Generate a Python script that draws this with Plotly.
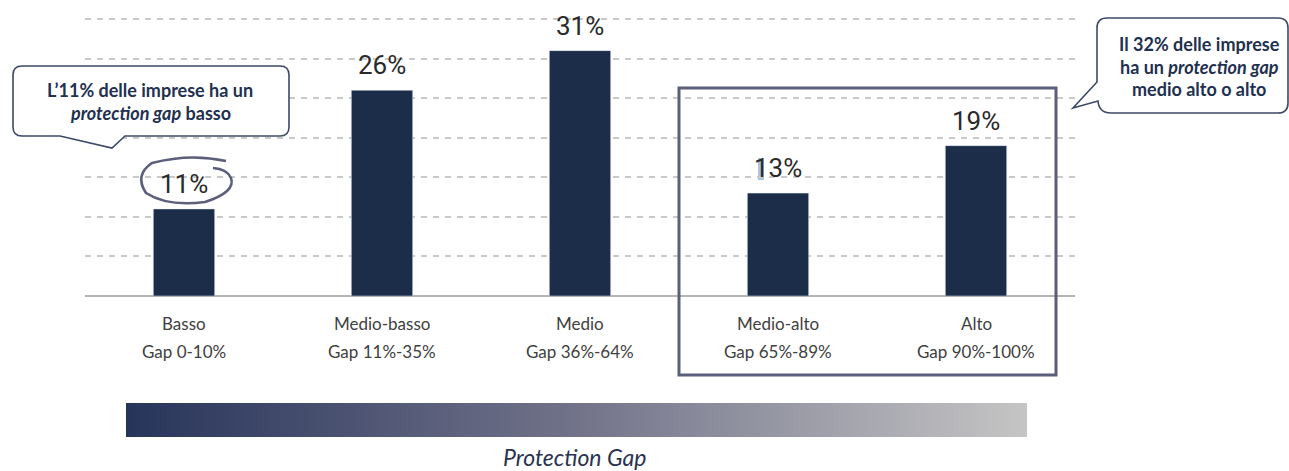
import plotly.graph_objects as go

# ---- data ----
categories = ["Basso", "Medio-basso", "Medio", "Medio-alto", "Alto"]
gap_ranges = ["Gap 0-10%", "Gap 11%-35%", "Gap 36%-64%", "Gap 65%-89%", "Gap 90%-100%"]
shares = [11, 26, 31, 13, 19]
value_labels = ["11%", "26%", "31%", "13%", "19%"]
left_callout = ["<b>L’11% delle imprese ha un</b>", "<b><i>protection gap</i> basso</b>"]
right_callout = ["<b>Il 32% delle imprese</b>", "<b>ha un <i>protection gap</i></b>", "<b>medio alto o alto</b>"]
scale_title = "<i>Protection Gap</i>"

W, H = 1289, 471


def px(x):
    return x / W


def py(y):
    return 1 - y / H


BAR = "#1c2d4a"
NAVY_TXT = "#22304f"
BOX = "#5c5f7c"
FONT = "Lato, 'Open Sans', sans-serif"

fig = go.Figure()
fig.add_trace(go.Bar(x=categories, y=shares, marker_color=BAR, width=0.31,
                     hoverinfo="skip", xaxis="x", yaxis="y"))

# gradient scale bar
fig.add_trace(go.Heatmap(z=[[0, 1], [0, 1]], x=[0, 1], y=[0, 1], zsmooth="best",
                         colorscale=[[0, "#27345a"], [0.5, "#72738a"], [1, "#c5c5c5"]],
                         showscale=False, hoverinfo="skip", xaxis="x2", yaxis="y2"))

unit = (296 - 19) / 35.0
ytop_px = 296 - 36 * unit

fig.update_layout(
    width=W, height=H,
    margin=dict(l=0, r=0, t=0, b=0),
    paper_bgcolor="white", plot_bgcolor="rgba(0,0,0,0)",
    showlegend=False,
    font=dict(family=FONT, color="#404040"),
    xaxis=dict(domain=[px(85), px(1075)], range=[-0.5, 4.5], showticklabels=False,
               showgrid=False, zeroline=False, showline=False, ticks=""),
    yaxis=dict(domain=[py(296), py(ytop_px)], range=[0, 36], dtick=5, tick0=0,
               showticklabels=False, showgrid=True, gridcolor="#c9c9c9", gridwidth=1.6,
               griddash="6px,6px", zeroline=True, zerolinecolor="#b4b4b4", zerolinewidth=2,
               showline=False, ticks=""),
    xaxis2=dict(domain=[px(126), px(1027)], range=[0, 1], visible=False),
    yaxis2=dict(domain=[py(437), py(403)], range=[0, 1], visible=False, anchor="x2"),
)
fig.data[1].update(xaxis="x2", yaxis="y2")

annotations = []
# value labels
for c, v, t in zip(categories, shares, value_labels):
    annotations.append(dict(x=c, y=v, xref="x", yref="y", text=t, showarrow=False,
                            yanchor="bottom", yshift=8,
                            font=dict(family="Roboto, sans-serif", size=26, color="#2a2a2a")))
# category labels
for c, g in zip(categories, gap_ranges):
    annotations.append(dict(x=c, y=py(323), xref="x", yref="paper", text=c, showarrow=False,
                            yanchor="middle", font=dict(size=17, color="#404040")))
    annotations.append(dict(x=c, y=py(351), xref="x", yref="paper", text=g, showarrow=False,
                            yanchor="middle", font=dict(size=17, color="#404040")))
# left callout text
for t, yy in zip(left_callout, [90, 113]):
    annotations.append(dict(x=px(150), y=py(yy), xref="paper", yref="paper", text=t,
                            showarrow=False, xanchor="center", yanchor="middle",
                            font=dict(size=18, color=NAVY_TXT)))
# right callout text
for t, yy in zip(right_callout, [44, 67, 89]):
    annotations.append(dict(x=px(1199), y=py(yy), xref="paper", yref="paper", text=t,
                            showarrow=False, xanchor="center", yanchor="middle",
                            font=dict(size=18, color=NAVY_TXT)))
# scale title
annotations.append(dict(x=px(574), y=py(457), xref="paper", yref="paper", text=scale_title,
                        showarrow=False, xanchor="center", yanchor="middle",
                        font=dict(size=23, color="#2a3350")))
fig.update_layout(annotations=annotations)


def P(x, y):
    return f"{px(x):.5f},{py(y):.5f}"


def rounded_callout_left():
    x0, x1, y0, y1, r = 13, 289, 66, 136, 9
    return ("M " + P(x0 + r, y0) + " L " + P(x1 - r, y0) + " Q " + P(x1, y0) + " " + P(x1, y0 + r) +
            " L " + P(x1, y1 - r) + " Q " + P(x1, y1) + " " + P(x1 - r, y1) +
            " L " + P(125, y1) + " L " + P(112, 148) + " L " + P(60, y1) +
            " L " + P(x0 + r, y1) + " Q " + P(x0, y1) + " " + P(x0, y1 - r) +
            " L " + P(x0, y0 + r) + " Q " + P(x0, y0) + " " + P(x0 + r, y0) + " Z")


def rounded_callout_right():
    x0, x1, y0, y1, r = 1097, 1288, 18, 113, 10
    return ("M " + P(x0 + r, y0) + " L " + P(x1 - r, y0) + " Q " + P(x1, y0) + " " + P(x1, y0 + r) +
            " L " + P(x1, y1 - r) + " Q " + P(x1, y1) + " " + P(x1 - r, y1) +
            " L " + P(x0 + 14, y1) + " Q " + P(x0 + 2, y1) + " " + P(x0 + 1, 101) +
            " L " + P(1073, 108) + " L " + P(x0, 82) +
            " L " + P(x0, y0 + r) + " Q " + P(x0, y0) + " " + P(x0 + r, y0) + " Z")


shapes = [
    dict(type="path", xref="paper", yref="paper", path=rounded_callout_left(),
         line=dict(color="#3d4a66", width=1.6), fillcolor="white"),
    dict(type="path", xref="paper", yref="paper", path=rounded_callout_right(),
         line=dict(color="#3d4a66", width=1.6), fillcolor="white"),
    dict(type="rect", xref="paper", yref="paper", x0=px(679), x1=px(1056), y0=py(375), y1=py(88),
         line=dict(color=BOX, width=3)),
    # hand-drawn loop around 11%
    dict(type="path", xref="paper", yref="paper",
         path=("M " + P(226, 161) + " Q " + P(190, 153) + " " + P(152, 163) +
               " Q " + P(134, 175) + " " + P(146, 193) + " Q " + P(168, 207) + " " + P(205, 202) +
               " Q " + P(236, 192) + " " + P(231, 178) + " Q " + P(227, 169) + " " + P(213, 168)),
         line=dict(color=BOX, width=2.6)),
    dict(type="rect", xref="paper", yref="paper", x0=px(758), x1=px(764), y0=py(180), y1=py(158),
         line=dict(width=0), fillcolor="#a9c6de", layer="below"),
]
fig.update_layout(shapes=shapes)

fig.write_html("out.html", config={"displayModeBar": False},
               post_script="document.body.style.margin='0';document.body.style.overflow='hidden';")
